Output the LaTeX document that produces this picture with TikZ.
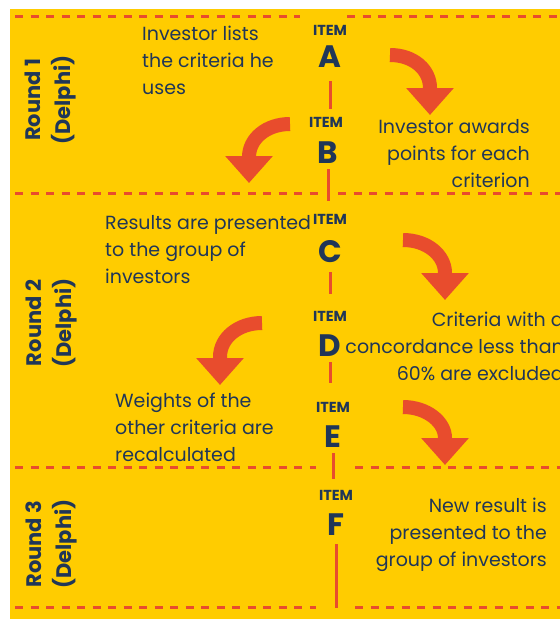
\documentclass[tikz,border=0pt]{standalone}
\usepackage{fontspec}
\setmainfont{Poppins}
\usepackage{tikz}
\usetikzlibrary{arrows.meta}

\definecolor{gold}{RGB}{255,204,0}
\definecolor{brick}{RGB}{232,76,45}
\definecolor{navy}{RGB}{32,54,88}

\begin{document}
\begin{tikzpicture}[x=1pt, y=-1pt,
	txt/.style={text=navy, inner sep=0pt, font=\fontsize{19}{27}\selectfont},
	itemlbl/.style={text=navy, inner sep=0pt, font=\bfseries\fontsize{14.5}{15}\selectfont},
	letter/.style={text=navy, inner sep=0pt, font=\bfseries\fontsize{31}{31}\selectfont},
	roundlbl/.style={text=navy, rotate=90, align=center, inner sep=0pt, font=\bfseries\fontsize{21}{30}\selectfont},
	sepline/.style={draw=brick, line width=3pt, dash pattern=on 8pt off 7.5pt},
	vline/.style={draw=brick, line width=3pt},
	turn/.style={draw=brick, line width=14pt, -{Triangle[length=27pt,width=46pt]}}]
				\useasboundingbox (0,0) rectangle (560,619);
				\fill[white] (0,0) rectangle (560,619);
				\fill[gold] (10,9) rectangle (560,619);
				% separators between the rounds
				\foreach \y/\a/\b in {16/300/347, 193/320/338, 467/316/355, 607/316/355}
				{
				\draw[sepline] (15,\y) -- (\a,\y);
				\draw[sepline] (\b,\y) -- (560,\y);
				}
				% rounds
				\node[roundlbl] (r1) at (51,100) {Round 1\\(Delphi)};
				\node[roundlbl] (r2) at (51,323) {Round 2\\(Delphi)};
				\node[roundlbl] (r3) at (51,544) {Round 3\\(Delphi)};
				% items
				\node[itemlbl] (itemA) at (330,30) {ITEM};
				\node[letter] (A) at (330,57) {A};
				\node[itemlbl] (itemB) at (326,122) {ITEM};
				\node[letter] (B) at (328,153) {B};
				\node[itemlbl] (itemC) at (330,219) {ITEM};
				\node[letter] (C) at (330,252) {C};
				\node[itemlbl] (itemD) at (330,316) {ITEM};
				\node[letter] (D) at (330,346) {D};
				\node[itemlbl] (itemE) at (333,407) {ITEM};
				\node[letter] (E) at (333,437) {E};
				\node[itemlbl] (itemF) at (336,495) {ITEM};
				\node[letter] (F) at (336,525) {F};
				\coordinate (bottom) at (336,608);
				\draw[vline, shorten <=13pt, shorten >=8pt] (A.south) -- (A.south |- itemB.north);
				\draw[vline, shorten <=5pt, shorten >=13pt] (B.south) -- (B.south |- itemC.north);
				\draw[vline, shorten <=9pt, shorten >=17pt] (C.south) -- (C.south |- itemD.north);
				\draw[vline, shorten <=5pt, shorten >=19pt] (D.south) -- (D.south |- itemE.north);
				\draw[vline, shorten <=5pt, shorten >=11pt] (E.south) -- (E.south |- itemF.north);
				\draw[vline, shorten <=8pt] (F.south) -- (bottom);
				% steps
				\node[txt, anchor=west, align=left] (lists) at (142,60) {Investor lists\\the criteria he\\uses};
				\node[txt, anchor=east, align=right] (awards) at (530,154) {Investor awards\\points for each\\criterion};
				\node[txt, anchor=west, align=left] (results) at (105,250) {Results are presented\\to the group of\\investors};
				\node[txt, anchor=east, align=right] (excl) at (564,346) {Criteria with a\\concordance less than\\60\% are excluded};
				\node[txt, anchor=west, align=left] (weights) at (115,427) {Weights of the\\other criteria are\\recalculated};
				\node[txt, anchor=east, align=right] (newres) at (547,535) {New result is\\presented to the\\group of investors};
				% turning arrows
				\draw[turn] (390,55) .. controls (414,55) and (430,70) .. (430,88) -- (430,115);
				\draw[turn] (290,124) .. controls (266,124) and (249,139) .. (249,157) -- (249,183);
				\draw[turn] (403,240) .. controls (427,240) and (445,255) .. (445,273) -- (445,300);
				\draw[turn] (262,323) .. controls (238,323) and (220,338) .. (220,357) -- (220,385);
				\draw[turn] (403,407) .. controls (427,407) and (445,422) .. (445,438) -- (445,465);
			\end{tikzpicture}
\end{document}
